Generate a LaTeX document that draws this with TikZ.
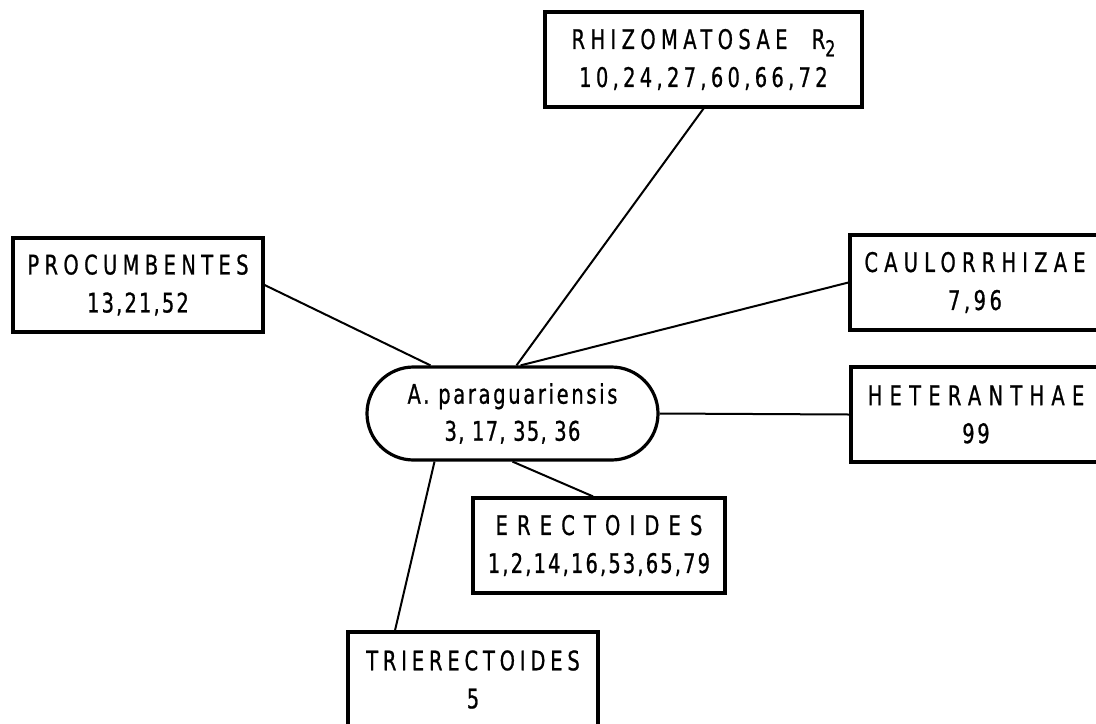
\documentclass[tikz,border=0pt]{standalone}
\usepackage{fontspec}
\setmainfont{DejaVu Sans}[FakeStretch=0.72,FakeBold=0.8]
\newcommand\spread[1]{\addfontfeatures{LetterSpace=#1}}
\usetikzlibrary{shapes.misc,calc}

\begin{document}
\begin{tikzpicture}[x=0.5pt,y=-0.5pt,
        group/.style={draw, line width=1.6pt, align=center, inner sep=0pt,
            minimum width=125pt, minimum height=47.5pt,
            font=\fontsize{13.5}{19}\selectfont},
        link/.style={line width=1pt}]
    \useasboundingbox (0,0) rectangle (1096,723);

    % species in the middle
    \node[group, rounded rectangle, minimum width=145.5pt, minimum height=46.5pt,
        font=\fontsize{13.5}{18.5}\selectfont] (para) at (512.5,413.5)
        {{\spread{10}A. paraguariensis}\\{\spread{5}3, 17, 35, 36}};

    % sections round it
    \node[group, minimum width=158.5pt] (rhiz) at (703.5,59.5)
        {{\spread{20}RHIZOMATOSAE}\hspace{0.9em}R\raisebox{-0.5ex}{\fontsize{11}{11}\selectfont 2}\\
         {\spread{16}10,24,27,60,66,72}};
    \node[group, minimum height=47pt] (proc) at (138,285)
        {{\spread{20}PROCUMBENTES}\\{\spread{8}13,21,52}};
    \node[group] (caul) at (975,282.5)
        {{\spread{23}CAULORRHIZAE}\\{\spread{13}7,96}};
    \node[group] (het) at (976,414.5)
        {{\spread{27}HETERANTHAE}\\{\spread{10}99}};
    \node[group, minimum width=126pt] (erect) at (599,545.5)
        {{\spread{34}ERECTOIDES}\\{\spread{8}1,2,14,16,53,65,79}};
    \node[group] (trier) at (473,679.5)
        {{\spread{18}TRIERECTOIDES}\\5};

    \draw[link] (rhiz.south) -- ($(para.north)+(4,0)$);
    \draw[link] (proc.east) -- ($(para.north)+(-82,0)$);
    \draw[link] (caul.west) -- ($(para.north)+(8,0)$);
    \draw[link] (het.west) -- (para.east);
    \draw[link] (para.south) -- ($(erect.north)+(-6,0)$);
    \draw[link] ($(para.south)+(-78,0)$) -- ($(trier.north)+(-78,0)$);
\end{tikzpicture}
\end{document}
